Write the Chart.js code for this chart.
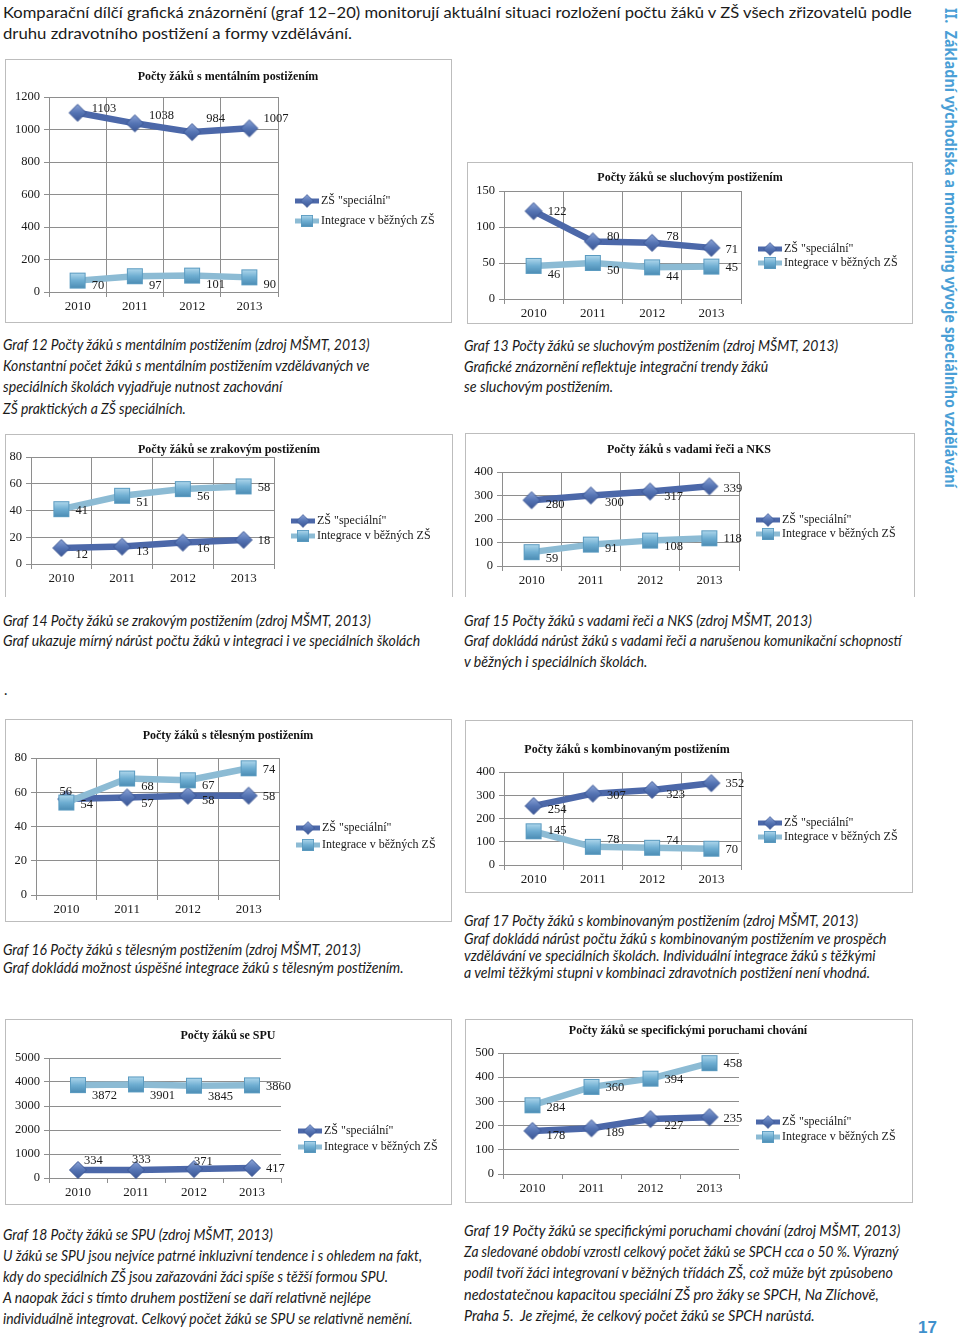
<!DOCTYPE html>
<html lang="cs">
<head>
<meta charset="utf-8">
<title>Grafy 12–19</title>
<script src="https://cdn.jsdelivr.net/npm/chart.js@4.4.1/dist/chart.umd.min.js"></script>
<style>
html,body{margin:0;padding:0;background:#fff}
body{width:960px;height:1336px;position:relative;overflow:hidden;font-family:Lato,"Open Sans",sans-serif;color:#1a1a1a}
.t{position:absolute;white-space:nowrap;line-height:18px;font-size:14.5px;transform-origin:0 0}
.t.i{font-style:italic}
.t.top{font-size:16px;line-height:20px}
.box{position:absolute;border:1px solid #bdbdbd;box-sizing:border-box;pointer-events:none}
.box.nb{border-bottom:none}
canvas.g{position:absolute}
.side{position:absolute;left:962px;top:8px;white-space:nowrap;transform-origin:0 0;font-weight:bold;font-size:16.5px;line-height:22px;font-family:"Noto Sans","Open Sans",sans-serif;color:#4a9fd6}
.num{position:absolute;left:918px;top:1318px;font:bold 17px "Liberation Sans",Arial,sans-serif;color:#3f90cc}
</style>
</head>
<body>

<div class="t top" style="left:3px;top:2px" data-w="909">Komparační dílčí grafická znázornění (graf 12–20) monitorují aktuální situaci rozložení počtu žáků v ZŠ všech zřizovatelů podle</div>
<div class="t top" style="left:3px;top:23px" data-w="349">druhu zdravotního postižení a formy vzdělávání.</div>

<div class="side" data-w="480">II.&nbsp; Základní východiska a monitoring vývoje speciálního vzdělávání</div>

<div class="t i" style="left:3px;top:336px" data-w="367">Graf 12 Počty žáků s mentálním postižením (zdroj MŠMT, 2013)</div>
<div class="t i" style="left:3px;top:357px" data-w="366">Konstantní počet žáků s mentálním postižením vzdělávaných ve</div>
<div class="t i" style="left:3px;top:378px" data-w="279">speciálních školách vyjadřuje nutnost zachování</div>
<div class="t i" style="left:3px;top:400px" data-w="183">ZŠ praktických a ZŠ speciálních.</div>

<div class="t i" style="left:464px;top:337px" data-w="374">Graf 13 Počty žáků se sluchovým postižením (zdroj MŠMT, 2013)</div>
<div class="t i" style="left:464px;top:358px" data-w="304">Grafické znázornění reflektuje integrační trendy žáků</div>
<div class="t i" style="left:464px;top:378px" data-w="149">se sluchovým postižením.</div>

<div class="t i" style="left:3px;top:612px" data-w="368">Graf 14 Počty žáků se zrakovým postižením (zdroj MŠMT, 2013)</div>
<div class="t i" style="left:3px;top:632px" data-w="417">Graf ukazuje mírný nárůst počtu žáků v integraci i ve speciálních školách</div>
<div class="t" style="left:4px;top:681px">.</div>

<div class="t i" style="left:464px;top:612px" data-w="348">Graf 15 Počty žáků s vadami řeči a NKS (zdroj MŠMT, 2013)</div>
<div class="t i" style="left:464px;top:632px" data-w="438">Graf dokládá nárůst žáků s vadami řeči a narušenou komunikační schopností</div>
<div class="t i" style="left:464px;top:653px" data-w="183">v běžných i speciálních školách.</div>

<div class="t i" style="left:3px;top:941px" data-w="358">Graf 16 Počty žáků s tělesným postižením (zdroj MŠMT, 2013)</div>
<div class="t i" style="left:3px;top:959px" data-w="401">Graf dokládá možnost úspěšné integrace žáků s tělesným postižením.</div>

<div class="t i" style="left:464px;top:912px" data-w="394">Graf 17 Počty žáků s kombinovaným postižením (zdroj MŠMT, 2013)</div>
<div class="t i" style="left:464px;top:930px" data-w="423">Graf dokládá nárůst počtu žáků s kombinovaným postižením ve prospěch</div>
<div class="t i" style="left:464px;top:947px" data-w="412">vzdělávání ve speciálních školách. Individuální integrace žáků s těžkými</div>
<div class="t i" style="left:464px;top:964px" data-w="406">a velmi těžkými stupni v kombinaci zdravotních postižení není vhodná.</div>

<div class="t i" style="left:3px;top:1226px" data-w="270">Graf 18 Počty žáků se SPU (zdroj MŠMT, 2013)</div>
<div class="t i" style="left:3px;top:1247px" data-w="419">U žáků se SPU jsou nejvíce patrné inkluzivní tendence i s ohledem na fakt,</div>
<div class="t i" style="left:3px;top:1268px" data-w="385">kdy do speciálních ZŠ jsou zařazováni žáci spíše s těžší formou SPU.</div>
<div class="t i" style="left:3px;top:1289px" data-w="368">A naopak žáci s tímto druhem postižení se daří relativně nejlépe</div>
<div class="t i" style="left:3px;top:1310px" data-w="410">individuálně integrovat. Celkový počet žáků se SPU se relativně nemění.</div>

<div class="t i" style="left:464px;top:1222px" data-w="436">Graf 19 Počty žáků se specifickými poruchami chování (zdroj MŠMT, 2013)</div>
<div class="t i" style="left:464px;top:1243px" data-w="435">Za sledované období vzrostl celkový počet žáků se SPCH cca o 50 %. Výrazný</div>
<div class="t i" style="left:464px;top:1264px" data-w="429">podíl tvoří žáci integrovaní v běžných třídách ZŠ, což může být způsobeno</div>
<div class="t i" style="left:464px;top:1286px" data-w="415">nedostatečnou kapacitou speciální ZŠ pro žáky se SPCH, Na Zlíchově,</div>
<div class="t i" style="left:464px;top:1307px" data-w="351">Praha 5.&nbsp; Je zřejmé, že celkový počet žáků se SPCH narůstá.</div>

<div class="num">17</div>

<script>
// data
const roky = ["2010", "2011", "2012", "2013"];
const nazvySerii = ['ZŠ "speciální"', "Integrace v běžných ZŠ"];

const mentalniSpecialni = [1103, 1038, 984, 1007];
const mentalniIntegrace = [70, 97, 101, 90];
const sluchoveSpecialni = [122, 80, 78, 71];
const sluchoveIntegrace = [46, 50, 44, 45];
const zrakoveSpecialni = [12, 13, 16, 18];
const zrakoveIntegrace = [41, 51, 56, 58];
const reciSpecialni = [280, 300, 317, 339];
const reciIntegrace = [59, 91, 108, 118];
const teleneSpecialni = [56, 57, 58, 58];
const teleneIntegrace = [54, 68, 67, 74];
const kombiSpecialni = [254, 307, 323, 352];
const kombiIntegrace = [145, 78, 74, 70];
const spuSpecialni = [334, 333, 371, 417];
const spuIntegrace = [3872, 3901, 3845, 3860];
const spchSpecialni = [178, 189, 227, 235];
const spchIntegrace = [284, 360, 394, 458];

// layout of the 8 charts (page px)
const grafy = [
  { title: "Počty žáků s mentálním postižením", tx: 228, ty: 77, box: [5, 59, 447, 264], plot: [49, 97, 278, 292],
    max: 1200, step: 200, data: [mentalniSpecialni, mentalniIntegrace], leg: [201, 221],
    dy: [[-4, -8, -13, -10], [5, 9, 9, 7]] },
  { title: "Počty žáků se sluchovým postižením", tx: 690, ty: 178, box: [467, 162, 446, 162], plot: [504, 191, 741, 299],
    max: 150, step: 50, data: [sluchoveSpecialni, sluchoveIntegrace], leg: [249, 263],
    dy: [[1, -5, -6, 2], [9, 8, 9, 1]] },
  { title: "Počty žáků se zrakovým postižením", tx: 229, ty: 450, box: [5, 434, 448, 163], plot: [31, 457, 274, 564], nb: true,
    max: 80, step: 20, data: [zrakoveSpecialni, zrakoveIntegrace], leg: [521, 536],
    dy: [[7, 5, 6, 1], [2, 7, 8, 1]] },
  { title: "Počty žáků s vadami řeči a NKS", tx: 689, ty: 450, box: [465, 433, 450, 164], plot: [502, 472, 739, 566], nb: true,
    max: 400, step: 100, data: [reciSpecialni, reciIntegrace], leg: [520, 534],
    dy: [[5, 7, 5, 2], [7, 4, 6, 0]] },
  { title: "Počty žáků s tělesným postižením", tx: 228, ty: 736, box: [5, 719, 447, 203], plot: [36, 758, 279, 895],
    max: 80, step: 10, data: [teleneSpecialni, teleneIntegrace], leg: [828, 845],
    dy: [[-7, 6, 5, 1], [2, 8, 5, 1]], dx: [[-7, 14, 14, 14], null] },
  { title: "Počty žáků s kombinovaným postižením", tx: 627, ty: 750, box: [465, 720, 448, 173], plot: [504, 772, 741, 865],
    max: 400, step: 100, data: [kombiSpecialni, kombiIntegrace], leg: [823, 837],
    dy: [[4, 2, 5, 1], [-1, -7, -7, 1]] },
  { title: "Počty žáků se SPU", tx: 228, ty: 1036, box: [5, 1019, 447, 186], plot: [49, 1058, 281, 1178], noVGrid: true,
    max: 5000, step: 1000, data: [spuSpecialni, spuIntegrace], leg: [1131, 1147],
    dy: [[-9, -10, -7, 1], [11, 11, 11, 1]], dx: [[6, -4, 0, 14], null] },
  { title: "Počty žáků se specifickými poruchami chování", tx: 688, ty: 1031, box: [465, 1019, 448, 184], plot: [503, 1053, 739, 1174], noVGrid: true,
    max: 500, step: 100, data: [spchSpecialni, spchIntegrace], leg: [1122, 1137],
    dy: [[5, 4, 7, 2], [2, 1, 1, 1]] }
];

const SERIF = '"Liberation Serif", "DejaVu Serif", serif';
const barvy = ["#4c68a9", "#8cbbd4"];
const mrizka = "#8e8e8e";

function diamant() {
  const c = document.createElement("canvas");
  c.width = c.height = 20;
  const x = c.getContext("2d");
  const g = x.createLinearGradient(0, 1, 0, 19);
  g.addColorStop(0, "#8ea6d8");
  g.addColorStop(0.5, "#5574b4");
  g.addColorStop(1, "#3a5593");
  x.beginPath();
  x.moveTo(10, 1.5); x.lineTo(18.5, 10); x.lineTo(10, 18.5); x.lineTo(1.5, 10);
  x.closePath();
  x.fillStyle = g; x.fill();
  x.strokeStyle = "#3c5795"; x.lineWidth = 1; x.stroke();
  return c;
}
function ctverec() {
  const c = document.createElement("canvas");
  c.width = c.height = 18;
  const x = c.getContext("2d");
  const g = x.createLinearGradient(0, 1, 0, 17);
  g.addColorStop(0, "#b3daee");
  g.addColorStop(0.5, "#6eaed2");
  g.addColorStop(1, "#4a8bb3");
  x.fillStyle = g;
  x.fillRect(1.5, 1.5, 15, 15);
  x.strokeStyle = "#5b9bc0"; x.lineWidth = 1;
  x.strokeRect(1.5, 1.5, 15, 15);
  return c;
}
const znacky = [diamant(), ctverec()];

// titles, value labels and legend drawn on the canvas
const popisky = {
  id: "popisky",
  afterDraw(chart, args, o) {
    const ctx = chart.ctx, g = o.g, ox = g.box[0], oy = g.box[1];
    ctx.save();
    // title
    ctx.font = "bold 12px " + SERIF;
    ctx.fillStyle = "#111";
    ctx.textAlign = "center";
    ctx.textBaseline = "middle";
    ctx.fillText(g.title, g.tx - ox, g.ty - oy);
    // value labels
    ctx.font = "12.5px " + SERIF;
    ctx.fillStyle = "#1a1a1a";
    ctx.textAlign = "left";
    chart.data.datasets.forEach((ds, di) => {
      chart.getDatasetMeta(di).data.forEach((p, i) => {
        const dx = g.dx && g.dx[di] ? g.dx[di][i] : 14;
        ctx.fillText(String(ds.data[i]), p.x + dx, p.y + g.dy[di][i]);
      });
    });
    // legend
    const lx = chart.chartArea.right + 17;
    ctx.font = "12px " + SERIF;
    chart.data.datasets.forEach((ds, di) => {
      const y = g.leg[di] - oy;
      ctx.strokeStyle = ds.borderColor;
      ctx.lineWidth = 5;
      ctx.beginPath(); ctx.moveTo(lx, y); ctx.lineTo(lx + 24, y); ctx.stroke();
      const m = znacky[di], s = 0.75;
      ctx.drawImage(m, lx + 12 - m.width * s / 2, y - m.height * s / 2, m.width * s, m.height * s);
      ctx.fillStyle = "#1a1a1a";
      ctx.fillText(ds.label, lx + 26, y);
    });
    ctx.restore();
  }
};

grafy.forEach(g => {
  const [bx, by, bw, bh] = g.box;
  const [pl, pt, pr, pb] = g.plot;
  const cv = document.createElement("canvas");
  cv.className = "g";
  cv.width = bw; cv.height = bh;
  cv.style.left = bx + "px"; cv.style.top = by + "px";
  document.body.appendChild(cv);
  const ramec = document.createElement("div");
  ramec.className = "box" + (g.nb ? " nb" : "");
  Object.assign(ramec.style, { left: bx + "px", top: by + "px", width: bw + "px", height: bh + "px" });
  document.body.appendChild(ramec);

  new Chart(cv, {
    type: "line",
    data: {
      labels: roky,
      datasets: g.data.map((d, i) => ({
        label: nazvySerii[i],
        data: d,
        borderColor: barvy[i],
        borderWidth: 6.5,
        borderJoinStyle: "round",
        borderCapStyle: "round",
        pointStyle: znacky[i],
        pointRadius: 8,
        pointHoverRadius: 8,
        tension: 0,
        clip: false,
        order: i === 0 ? 1 : 0
      }))
    },
    options: {
      responsive: false,
      animation: false,
      events: [],
      layout: { padding: { left: 0, top: pt - by, right: bx + bw - pr, bottom: 0 } },
      plugins: { legend: { display: false }, tooltip: { enabled: false }, title: { display: false }, popisky: { g } },
      scales: {
        x: {
          offset: true,
          grid: { offset: true, color: mrizka, tickLength: 5, drawOnChartArea: !g.noVGrid },
          border: { color: mrizka },
          ticks: { font: { family: SERIF, size: 13 }, color: "#1a1a1a", padding: 2 },
          afterFit: s => { s.height = by + bh - pb; }
        },
        y: {
          min: 0, max: g.max,
          grid: { color: mrizka, tickLength: 5 },
          border: { color: mrizka },
          ticks: { stepSize: g.step, font: { family: SERIF, size: 12.5 }, color: "#1a1a1a", padding: 4,
                   callback: v => String(v) },
          afterFit: s => { s.width = pl - bx; }
        }
      }
    },
    plugins: [popisky]
  });
});

// fit text lines to widths measured on the original page
function prizpusob() {
  document.querySelectorAll("[data-w]").forEach(el => {
    const w = el.scrollWidth;
    const s = Number(el.dataset.w) / w;
    el.style.transform = el.classList.contains("side") ? `rotate(90deg) scaleX(${s})` : `scaleX(${s})`;
  });
}
prizpusob();
</script>
</body>
</html>
